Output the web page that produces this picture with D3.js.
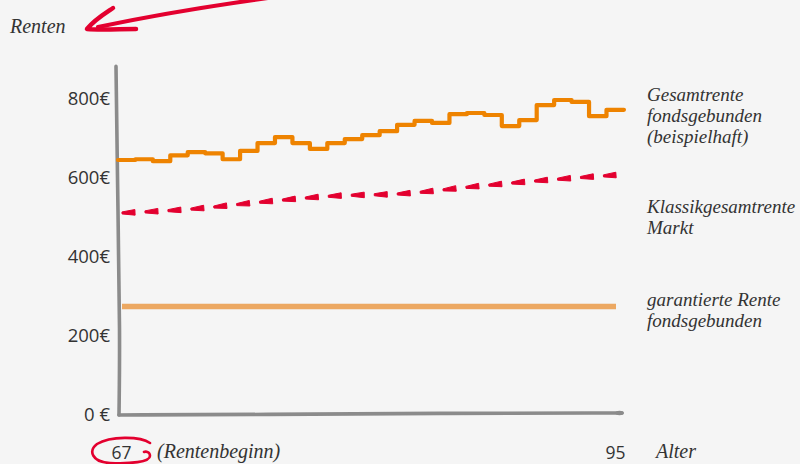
<!DOCTYPE html>
<html><head><meta charset="utf-8">
<script src="https://cdn.jsdelivr.net/npm/d3@7"></script>
<style>body{margin:0;background:#f5f5f5;} svg{display:block;background:#f5f5f5}</style>
</head><body><svg id="c" width="800" height="464"></svg>
<script>
// ---- data ----
const yTicks = [0, 200, 400, 600, 800];
const xTicks = [67, 95];
// fund-linked total pension (example), one value per yearly step
const fundValues = [643,645,640,655,663,660,645,666,686,701,686,671,686,696,706,716,732,742,737,759,762,757,729,744,782,795,790,754,770];
// classic total pension (market)
const classicAges = [67,71,75,79,83,87,91,95];
const classicValues = [509,519,537,552,558,576,592,605];
// guaranteed pension fund-linked
const guaranteedAges = [67,95];
const guaranteedValues = [272,272];
const labelFund = ["Gesamtrente","fondsgebunden","(beispielhaft)"];
const labelClassic = ["Klassikgesamtrente","Markt"];
const labelGuaranteed = ["garantierte Rente","fondsgebunden"];

// ---- drawing ----
const svg = d3.select("#c");
const x = d3.scaleLinear().domain([67,95]).range([122,616]);
const y = d3.scaleLinear().domain([0,800]).range([414,98]);
const serif = "'Liberation Serif', serif";
const sans = "'Open Sans', sans-serif";
const txt = "#333";

// axes (hand drawn look)
const axisLine = d3.line().curve(d3.curveBasis);
svg.append("path")
  .attr("d", axisLine([[x(67)-6, y(880)],[x(67)-4, y(500)],[x(67)-2, y(200)],[x(67)-3, y(0)+1]]))
  .attr("fill","none").attr("stroke","#8b8b8b").attr("stroke-width",3.6).attr("stroke-linecap","round");
svg.append("path")
  .attr("d", axisLine([[x(67)-3, y(0)+1],[x(75), y(0)+0.5],[x(85), y(0)-0.8],[x(95.35), y(0)-1]]))
  .attr("fill","none").attr("stroke","#8b8b8b").attr("stroke-width",3.6).attr("stroke-linecap","round");
svg.append("ellipse").attr("cx", x(95.2)).attr("cy", y(0)-1).attr("rx",4).attr("ry",2.2).attr("fill","#8b8b8b");

// y tick labels
svg.append("g").selectAll("text").data(yTicks).join("text")
  .attr("x", 110).attr("y", d => y(d)+6.5)
  .attr("text-anchor","end").attr("font-family",sans).attr("font-size",18.5).attr("fill",txt)
  .text(d => d === 0 ? "0 €" : d + "€");

// x tick labels
svg.append("g").selectAll("text").data(xTicks).join("text")
  .attr("x", d => x(d)-0.5).attr("y", 458.5)
  .attr("text-anchor","middle").attr("font-family",sans).attr("font-size",17.5).attr("fill",txt)
  .text(d => d);
svg.append("text").attr("x",157).attr("y",458).attr("font-family",serif).attr("font-style","italic")
  .attr("font-size",20).attr("fill",txt).text("(Rentenbeginn)");
svg.append("text").attr("x",656).attr("y",458).attr("font-family",serif).attr("font-style","italic")
  .attr("font-size",20).attr("fill",txt).text("Alter");
svg.append("text").attr("x",10).attr("y",33).attr("font-family",serif).attr("font-style","italic")
  .attr("font-size",20).attr("fill",txt).text("Renten");

// guaranteed line
svg.append("path")
  .attr("d", d3.line().x((d,i)=>x(guaranteedAges[i])).y(d=>y(d))(guaranteedValues))
  .attr("fill","none").attr("stroke","#eca862").attr("stroke-width",5.5);

// classic dashed line, tapered dashes
const classicPath = svg.append("path")
  .attr("d", d3.line().curve(d3.curveMonotoneX).x((d,i)=>x(classicAges[i])).y(d=>y(d))(classicValues))
  .attr("fill","none").attr("stroke","none");
{
  const node = classicPath.node();
  const L = node.getTotalLength();
  const dash = 13, period = 23;
  const g = svg.append("g").attr("fill","#e3002f");
  for (let s = 0; s < L - 4; s += period) {
    const e = Math.min(s + dash, L);
    const p0 = node.getPointAtLength(s), p1 = node.getPointAtLength(e);
    const dx = p1.x - p0.x, dy = p1.y - p0.y, len = Math.hypot(dx, dy);
    const nx = -dy/len, ny = dx/len;
    const w0 = 1.0, w1 = 2.8;
    const pts = [
      [p0.x + nx*w0, p0.y + ny*w0],
      [p1.x + nx*w1, p1.y + ny*w1],
      [p1.x - nx*w1, p1.y - ny*w1],
      [p0.x - nx*w0, p0.y - ny*w0]
    ];
    g.append("path").attr("d", "M" + pts.map(p=>p.join(",")).join("L") + "Z")
      .attr("stroke","#e3002f").attr("stroke-width",1).attr("stroke-linejoin","round");
  }
}

// fund-linked step line
const xs = d3.scaleLinear().domain([0, fundValues.length]).range([x(66.77), x(95.45)]);
const stepPts = fundValues.map((v,i)=>[xs(i), y(v)]);
stepPts.push([xs(fundValues.length), y(fundValues[fundValues.length-1])]);
svg.append("path")
  .attr("d", d3.line().curve(d3.curveStepAfter)(stepPts))
  .attr("fill","none").attr("stroke","#ee8300").attr("stroke-width",4.2)
  .attr("stroke-linejoin","round").attr("stroke-linecap","round");

// right labels
function label(lines, y0) {
  svg.append("g").selectAll("text").data(lines).join("text")
    .attr("x", 647).attr("y", (d,i)=> y0 + i*21)
    .attr("font-family",serif).attr("font-style","italic").attr("font-size",19).attr("fill",txt)
    .text(d=>d);
}
label(labelFund, 101);
label(labelClassic, 213);
label(labelGuaranteed, 306);

// red marker circle around 67
svg.append("path")
  .attr("d","M150,443 C140,436 110,436 97,444 C88,451 92,462 110,463 C130,464 150,462 150,456 C150,452 146,451 144,452")
  .attr("fill","none").attr("stroke","#e3002f").attr("stroke-width",2.6).attr("stroke-linecap","round");

// red arrow at top
svg.append("path")
  .attr("d","M268,-2 C210,6 150,16 98,27")
  .attr("fill","none").attr("stroke","#e3002f").attr("stroke-width",4).attr("stroke-linecap","round");
svg.append("path")
  .attr("d","M113,8 C104,14 94,20 87,29 C100,30 120,29 136,29")
  .attr("fill","none").attr("stroke","#e3002f").attr("stroke-width",4.5).attr("stroke-linecap","round").attr("stroke-linejoin","round");
</script></body></html>
